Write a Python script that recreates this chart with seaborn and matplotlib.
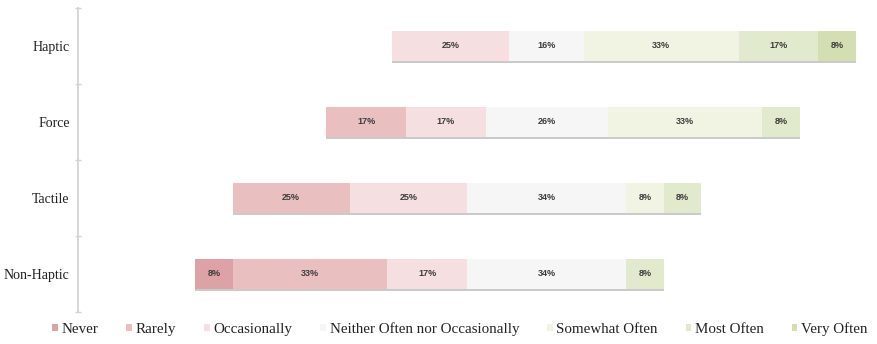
import numpy as np
import matplotlib
matplotlib.use("Agg")
import matplotlib.pyplot as plt
import matplotlib.patheffects as pe
from matplotlib.patches import Patch
import seaborn as sns

# Survey groups, listed top to bottom
groups = ["Haptic", "Force", "Tactile", "Non-Haptic"]

# Response shares (%) per frequency level
never = [0, 0, 0, 8]
rarely = [0, 17, 25, 33]
occasionally = [25, 17, 25, 17]
neither = [16, 26, 34, 34]
somewhat_often = [33, 33, 8, 0]
most_often = [17, 8, 8, 8]
very_often = [8, 0, 0, 0]

levels = ["Never", "Rarely", "Occasionally", "Neither Often nor Occasionally",
          "Somewhat Often", "Most Often", "Very Often"]
series = [never, rarely, occasionally, neither, somewhat_often, most_often, very_often]
colors = ["#dca2a5", "#e9bfc0", "#f5dfe0", "#f6f6f6", "#f1f4e3", "#e1eacd", "#d3dfb2"]

sns.set_theme(style="white")
plt.rcParams["font.family"] = ["Liberation Serif", "DejaVu Serif"]

fig = plt.figure(figsize=(8.77, 3.44), dpi=100)
ax = fig.add_axes([78 / 877, 32 / 344, 1 - 78 / 877, (312 - 8) / 344])

vals = np.array(series, dtype=float)  # shape (levels, groups)
# Centre each bar on the middle of the neutral response
left = -(vals[0] + vals[1] + vals[2] + vals[3] / 2)

ypos = np.arange(len(groups))
shadow = [pe.SimplePatchShadow(offset=(0.0, -1.4), shadow_rgbFace="#a0a0a0", alpha=0.55), pe.Normal()]
for lvl, v, c in zip(levels, vals, colors):
    bars = ax.barh(ypos, v, left=left, height=0.4, color=c, edgecolor="none",
                   linewidth=0, label=lvl, path_effects=shadow)
    for rect, val in zip(bars, v):
        if val > 0:
            ax.text(rect.get_x() + rect.get_width() / 2, rect.get_y() + rect.get_height() / 2,
                    f"{int(val)}%", ha="center", va="center", fontsize=6.5,
                    color="#3c3c3c", family="Liberation Sans", fontweight="bold")
    left = left + v

ax.set_xlim(-100, (877 - 547) / 4.68)
ax.set_ylim(len(groups) - 0.5, -0.5)
ax.set_yticks(ypos)
ax.set_yticklabels(groups, fontsize=10, color="#222222")
ax.set_yticks(np.arange(len(groups) + 1) - 0.5, minor=True)
ax.tick_params(axis="y", which="major", length=0, pad=6)
ax.tick_params(axis="y", which="minor", length=4, width=1, color="#d2d2d2", direction="inout", left=True)
ax.set_xticks([])
for s in ["top", "right", "bottom"]:
    ax.spines[s].set_visible(False)
ax.spines["left"].set_color("#d4d4d4")
ax.spines["left"].set_linewidth(1.3)

handles = [Patch(facecolor=c, edgecolor="none", label=l) for l, c in zip(levels, colors)]
fig.legend(handles=handles, loc="center", bbox_to_anchor=(0.5245, 0.044), ncol=7,
           frameon=False, fontsize=10.8, handlelength=0.38, handleheight=0.38,
           handletextpad=0.25, columnspacing=1.85, labelcolor="#222222")

fig.savefig("out.png", dpi=100, facecolor="white")
